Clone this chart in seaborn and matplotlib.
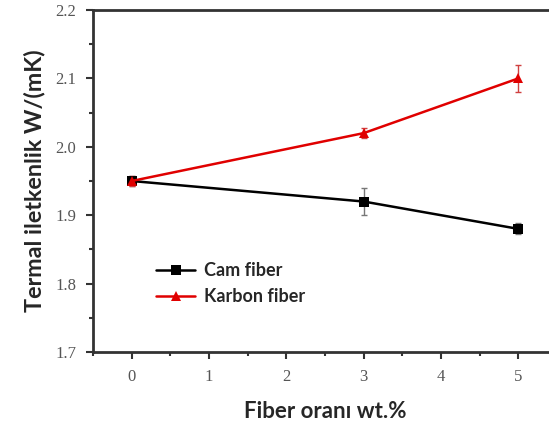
import matplotlib
matplotlib.use("Agg")
import matplotlib.pyplot as plt
from matplotlib.ticker import MultipleLocator, FormatStrFormatter
import seaborn as sns
import pandas as pd

fiber_pct = [0, 3, 5]
cam_values = [1.95, 1.92, 1.88]
cam_err = [0.008, 0.02, 0.008]
karbon_values = [1.95, 2.02, 2.10]
karbon_err = [0.008, 0.007, 0.02]

df = pd.concat([
    pd.DataFrame({"x": fiber_pct, "y": cam_values, "seri": "Cam fiber"}),
    pd.DataFrame({"x": fiber_pct, "y": karbon_values, "seri": "Karbon fiber"}),
])

sns.set_style("white")
fig = plt.figure(figsize=(5.49, 4.29), dpi=100)
ax = fig.add_axes([93 / 549, 1 - 352 / 429, 464 / 549, 342 / 429])

palette = {"Cam fiber": "black", "Karbon fiber": "#e00000"}
sns.lineplot(data=df, x="x", y="y", hue="seri", style="seri",
             markers={"Cam fiber": "s", "Karbon fiber": "^"}, dashes=False,
             palette=palette, markersize=7, linewidth=1.8,
             markeredgewidth=0, ax=ax, zorder=3)

ax.errorbar(fiber_pct, cam_values, yerr=cam_err, fmt="none", ecolor="#777777",
            elinewidth=1, capsize=2, zorder=2)
ax.errorbar(fiber_pct, karbon_values, yerr=karbon_err, fmt="none", ecolor="#d04040",
            elinewidth=1, capsize=2, zorder=2)

ax.set_xlim(-0.5, 5.5)
ax.set_ylim(1.7, 2.2)
ax.xaxis.set_major_locator(MultipleLocator(1))
ax.xaxis.set_minor_locator(MultipleLocator(0.5))
ax.yaxis.set_major_locator(MultipleLocator(0.1))
ax.yaxis.set_minor_locator(MultipleLocator(0.05))
ax.yaxis.set_major_formatter(FormatStrFormatter("%.1f"))
ax.tick_params(which="both", direction="out", color="#333333", width=1.5,
               left=True, bottom=True)
ax.tick_params(which="major", length=5, labelsize=12, labelcolor="#555555", pad=7)
ax.tick_params(which="minor", length=3)
for lab in ax.get_xticklabels() + ax.get_yticklabels():
    lab.set_fontfamily("Liberation Serif")

for s in ax.spines.values():
    s.set_color("#333333")
    s.set_linewidth(2)

ax.set_xlabel("Fiber oranı wt.%", fontsize=16, fontweight="bold",
              family="Lato", labelpad=12)
ax.set_ylabel("Termal iletkenlik W/(mK)", fontsize=16.8, fontweight="bold",
              family="Lato", labelpad=7)

ax.legend(loc="center left", bbox_to_anchor=(0.1, 0.20), frameon=False,
          prop={"family": "Lato", "weight": "bold", "size": 13},
          handlelength=2.2, handletextpad=0.5, labelspacing=0.5)

fig.savefig("out.png", dpi=100)
